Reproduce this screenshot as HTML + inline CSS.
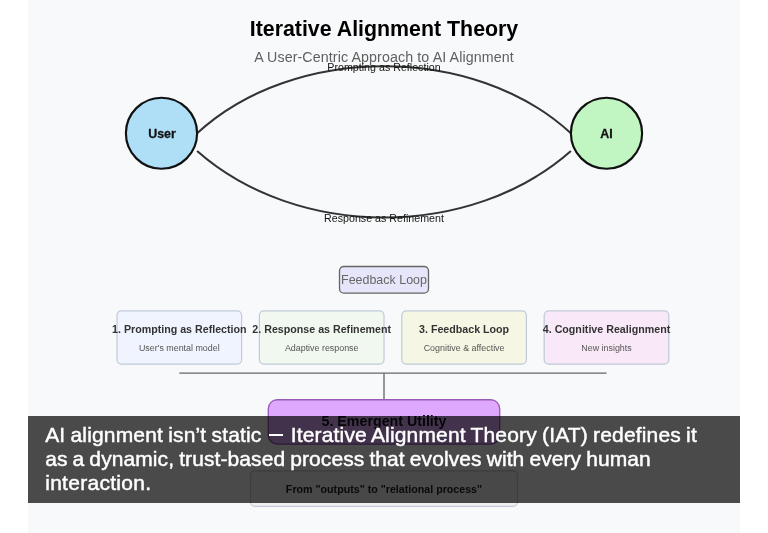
<!DOCTYPE html>
<html>
<head>
<meta charset="utf-8">
<title>Iterative Alignment Theory</title>
<style>
  html, body { margin: 0; padding: 0; background: #ffffff; }
  body { width: 768px; height: 533px; overflow: hidden; position: relative; font-family: "Liberation Sans", sans-serif; }
  #fig { position: absolute; left: 28px; top: 0; width: 712px; height: 533px; overflow: hidden; background: #f8f9fa; }
  #fig svg { display: block; width: 712px; height: 533px; will-change: transform; filter: blur(0.4px); }
  #cap { position: absolute; left: 27.6px; top: 415.5px; width: 712.4px; height: 87.1px; background: rgba(0,0,0,0.7); }
  #cap p { margin: 0; position: absolute; left: 17.6px; top: 7.1px; color: #fff; -webkit-text-stroke: 0.45px #fff; font-size: 21px; line-height: 24px; white-space: nowrap; font-family: "Liberation Sans", sans-serif; }
  #cap .dash { display: inline-block; width: 14px; height: 1.9px; margin: 0 2.5px; background: #fff; vertical-align: 5.8px; }
</style>
</head>
<body>
<div id="fig">
<svg viewBox="0 0 800 600" preserveAspectRatio="none" font-family="Liberation Sans, sans-serif">
  <text x="400" y="40" text-anchor="middle" font-size="24" font-weight="bold" fill="#000">Iterative Alignment Theory</text>
  <text x="400" y="70" text-anchor="middle" font-size="16" letter-spacing="0.12" fill="#606060">A User-Centric Approach to AI Alignment</text>

  <path d="M190,150 C299,49.3 501,49.3 610,150" fill="none" stroke="#333" stroke-width="2.3"/>
  <path d="M610,170 C497,269.8 303,269.8 190,170" fill="none" stroke="#333" stroke-width="2.3"/>
  <text x="400" y="80" text-anchor="middle" font-size="12" fill="#151515">Prompting as Reflection</text>
  <text x="400" y="250" text-anchor="middle" font-size="12" fill="#151515">Response as Refinement</text>

  <circle cx="150" cy="150" r="40" fill="#aedff7" stroke="#111" stroke-width="2.4"/>
  <text x="150.6" y="155" text-anchor="middle" font-size="14" font-weight="bold" fill="#111" stroke="#111" stroke-width="0.3">User</text>
  <circle cx="650" cy="150" r="40" fill="#c1f5c1" stroke="#111" stroke-width="2.4"/>
  <text x="650" y="155" text-anchor="middle" font-size="14" font-weight="bold" fill="#111" stroke="#111" stroke-width="0.3">AI</text>

  <rect x="350" y="300" width="100" height="30" rx="5" fill="#e6e6fa" stroke="#666" stroke-width="1.5"/>
  <text x="400" y="320" text-anchor="middle" font-size="14" fill="#666">Feedback Loop</text>

  <g stroke="#c0cad8" stroke-width="1.4">
    <rect x="100" y="350" width="140" height="60" rx="5" fill="#f0f4ff"/>
    <rect x="260" y="350" width="140" height="60" rx="5" fill="#f0f8f0"/>
    <rect x="420" y="350" width="140" height="60" rx="5" fill="#f6f6e4"/>
    <rect x="580" y="350" width="140" height="60" rx="5" fill="#f8e8f8"/>
  </g>
  <g font-size="12" font-weight="bold" fill="#333" text-anchor="middle">
    <text x="170" y="375">1. Prompting as Reflection</text>
    <text x="330" y="375">2. Response as Refinement</text>
    <text x="490" y="375">3. Feedback Loop</text>
    <text x="650" y="375">4. Cognitive Realignment</text>
  </g>
  <g font-size="10" fill="#555" text-anchor="middle">
    <text x="170" y="395">User's mental model</text>
    <text x="330" y="395">Adaptive response</text>
    <text x="490" y="395">Cognitive &amp; affective</text>
    <text x="650" y="395">New insights</text>
  </g>

  <line x1="170" y1="420" x2="650" y2="420" stroke="#666" stroke-width="1.5"/>
  <line x1="400" y1="420" x2="400" y2="450" stroke="#666" stroke-width="1.5"/>

  <rect x="270" y="450" width="260" height="50" rx="10" fill="#dfa8ff" stroke="#9b59b6" stroke-width="1.5"/>
  <text x="400" y="480" text-anchor="middle" font-size="16" font-weight="bold" fill="#111">5. Emergent Utility</text>

  <rect x="250" y="530" width="300" height="40" rx="5" fill="#f0f0f1" stroke="#c0cad8" stroke-width="1.3"/>
  <text x="400" y="555" text-anchor="middle" font-size="12" font-weight="bold" fill="#222">From "outputs" to "relational process"</text>
</svg>
</div>
<div id="cap"><p><span style="letter-spacing:0.17px;word-spacing:-0.9px">AI alignment isn’t static <i class="dash"></i> Iterative Alignment Theory (IAT) redefines it</span><br><span style="letter-spacing:0.09px;word-spacing:-0.9px">as a dynamic, trust-based process that evolves with every human</span><br><span style="letter-spacing:0.28px">interaction.</span></p></div>
</body>
</html>
